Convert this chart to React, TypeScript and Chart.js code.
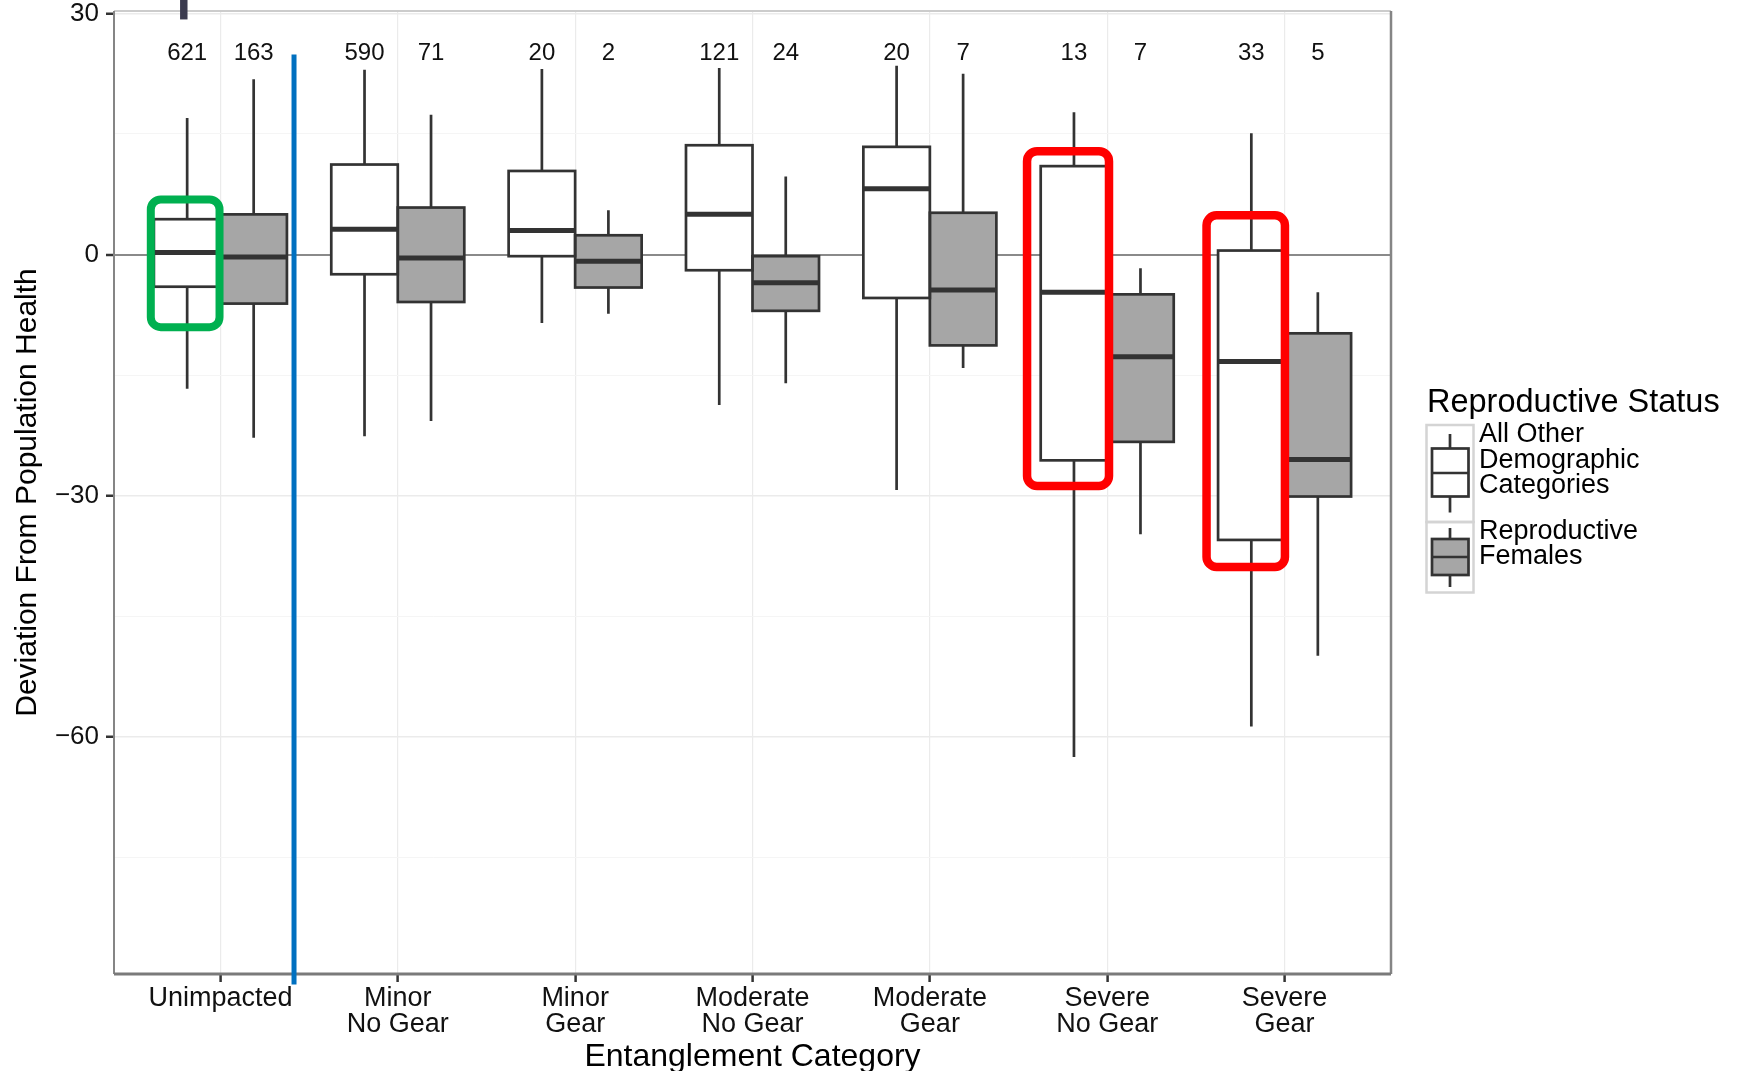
import React, { useEffect, useRef } from 'react';
import { Chart, registerables } from 'chart.js';

Chart.register(...registerables);

// ---------- data ----------
const categoryLabels: string[][] = [
  ['Unimpacted'],
  ['Minor', 'No Gear'],
  ['Minor', 'Gear'],
  ['Moderate', 'No Gear'],
  ['Moderate', 'Gear'],
  ['Severe', 'No Gear'],
  ['Severe', 'Gear'],
];
const categoryPositions = [1, 2, 3, 4, 5, 6, 7];

const seriesNames = ['All Other Demographic Categories', 'Reproductive Females'];

const otherMax = [17.0, 23.0, 23.1, 23.2, 23.5, 17.7, 15.1];
const otherQ3 = [4.4, 11.2, 10.4, 13.6, 13.4, 11.0, 0.5];
const otherMedian = [0.25, 3.15, 3.0, 5.0, 8.2, -4.7, -13.3];
const otherQ1 = [-4.0, -2.45, -0.2, -1.95, -5.4, -25.6, -35.5];
const otherMin = [-16.7, -22.6, -8.5, -18.7, -29.3, -62.5, -58.7];
const otherCounts = [621, 590, 20, 121, 20, 13, 33];

const femaleMax = [21.8, 17.4, 5.5, 9.7, 22.5, -1.7, -4.7];
const femaleQ3 = [5.0, 5.85, 2.4, -0.2, 5.2, -4.95, -9.8];
const femaleMedian = [-0.3, -0.42, -0.83, -3.5, -4.4, -12.7, -25.5];
const femaleQ1 = [-6.1, -5.9, -4.1, -7.0, -11.3, -23.3, -30.1];
const femaleMin = [-22.8, -20.7, -7.35, -16.0, -14.1, -34.8, -49.9];
const femaleCounts = [163, 71, 2, 24, 7, 7, 5];

const yTickValues = [-75, -60, -45, -30, -15, 0, 15, 30];
const yMin = -89.5;
const yMax = 30.3;
const xMin = 0.4;
const xMax = 7.6;
const countLabelValue = 25;

// highlight annotations (in data units)
const greenBox = { x0: 0.6075, x1: 0.995, y0: 6.86, y1: -9.03 };
const redBoxes = [
  { x0: 5.548, x1: 6.01, y0: 12.86, y1: -28.78 },
  { x0: 6.56, x1: 7.002, y0: 4.89, y1: -38.86 },
];
const blueLine = { x: 1.415, yTop: 24.9, yBottom: -90.8 };
const topMark = { x0: 0.7725, x1: 0.8145, yBottom: 29.25 };

// ---------- styling ----------
const FONT = "'Liberation Sans', Arial, Helvetica, sans-serif";
const BOX_LINE = '#333333';
const FILLS = ['#ffffff', '#a6a6a6'];
const LINE_W = 2.7;

const seriesStats = [
  { max: otherMax, q3: otherQ3, med: otherMedian, q1: otherQ1, min: otherMin, n: otherCounts },
  { max: femaleMax, q3: femaleQ3, med: femaleMedian, q1: femaleQ1, min: femaleMin, n: femaleCounts },
];

function fmtY(v: number): string {
  if (v % 30 !== 0) return '';
  return v < 0 ? '\u2212' + Math.abs(v) : String(v);
}

const boxPlugin = {
  id: 'boxExtras',
  beforeDatasetsDraw(chart: any) {
    const ctx = chart.ctx;
    const y = chart.scales.y;
    ctx.save();
    ctx.strokeStyle = BOX_LINE;
    ctx.lineWidth = LINE_W;
    chart.data.datasets.forEach((_ds: any, di: number) => {
      const meta = chart.getDatasetMeta(di);
      const st = seriesStats[di];
      meta.data.forEach((bar: any, i: number) => {
        const { x } = bar.getProps(['x'], true);
        ctx.beginPath();
        ctx.moveTo(x, y.getPixelForValue(st.max[i]));
        ctx.lineTo(x, y.getPixelForValue(st.q3[i]));
        ctx.moveTo(x, y.getPixelForValue(st.q1[i]));
        ctx.lineTo(x, y.getPixelForValue(st.min[i]));
        ctx.stroke();
      });
    });
    ctx.restore();
  },
  afterDatasetsDraw(chart: any) {
    const ctx = chart.ctx;
    const xs = chart.scales.x;
    const y = chart.scales.y;
    const area = chart.chartArea;

    // box outlines, medians, counts
    ctx.save();
    chart.data.datasets.forEach((_ds: any, di: number) => {
      const meta = chart.getDatasetMeta(di);
      const st = seriesStats[di];
      meta.data.forEach((bar: any, i: number) => {
        const { x, width } = bar.getProps(['x', 'width'], true);
        const top = y.getPixelForValue(st.q3[i]);
        const bot = y.getPixelForValue(st.q1[i]);
        ctx.strokeStyle = BOX_LINE;
        ctx.lineWidth = LINE_W;
        ctx.strokeRect(x - width / 2, top, width, bot - top);
        const my = y.getPixelForValue(st.med[i]);
        ctx.lineWidth = 5;
        ctx.beginPath();
        ctx.moveTo(x - width / 2, my);
        ctx.lineTo(x + width / 2, my);
        ctx.stroke();
        ctx.fillStyle = '#111111';
        ctx.font = `24px ${FONT}`;
        ctx.textAlign = 'center';
        ctx.textBaseline = 'middle';
        ctx.fillText(String(st.n[i]), x, y.getPixelForValue(countLabelValue));
      });
    });
    ctx.restore();

    // panel border
    ctx.save();
    ctx.strokeStyle = '#cccccc';
    ctx.lineWidth = 2;
    ctx.beginPath();
    ctx.moveTo(area.left, area.top);
    ctx.lineTo(area.right, area.top);
    ctx.stroke();
    ctx.strokeStyle = '#858585';
    ctx.lineWidth = 2.5;
    ctx.beginPath();
    ctx.moveTo(area.right, area.top);
    ctx.lineTo(area.right, area.bottom);
    ctx.stroke();
    ctx.lineWidth = 2;
    ctx.beginPath();
    ctx.moveTo(area.left, area.top);
    ctx.lineTo(area.left, area.bottom);
    ctx.stroke();
    ctx.strokeStyle = '#7a7a7a';
    ctx.lineWidth = 3;
    ctx.beginPath();
    ctx.moveTo(area.left, area.bottom);
    ctx.lineTo(area.right, area.bottom);
    ctx.stroke();
    ctx.restore();

    // annotations
    ctx.save();
    const rr = (b: { x0: number; x1: number; y0: number; y1: number }, color: string, lw: number) => {
      const l = xs.getPixelForValue(b.x0);
      const r = xs.getPixelForValue(b.x1);
      const t = y.getPixelForValue(b.y0);
      const bt = y.getPixelForValue(b.y1);
      ctx.strokeStyle = color;
      ctx.lineWidth = lw;
      ctx.beginPath();
      (ctx as any).roundRect(l, t, r - l, bt - t, 10);
      ctx.stroke();
    };
    rr(greenBox, '#00b050', 8);
    redBoxes.forEach((b) => rr(b, '#ff0000', 8.5));

    ctx.strokeStyle = '#0070c0';
    ctx.lineWidth = 5;
    ctx.beginPath();
    const bx = xs.getPixelForValue(blueLine.x);
    ctx.moveTo(bx, y.getPixelForValue(blueLine.yTop));
    ctx.lineTo(bx, y.getPixelForValue(blueLine.yBottom));
    ctx.stroke();

    ctx.fillStyle = '#3b3b4f';
    const mx0 = xs.getPixelForValue(topMark.x0);
    const mx1 = xs.getPixelForValue(topMark.x1);
    ctx.fillRect(mx0, 0, mx1 - mx0, y.getPixelForValue(topMark.yBottom));
    ctx.restore();

    // legend
    ctx.save();
    const L = area.right + 36;
    ctx.fillStyle = '#000000';
    ctx.textAlign = 'left';
    ctx.textBaseline = 'middle';
    ctx.font = `32.5px ${FONT}`;
    ctx.fillText('Reproductive Status', L, 403);

    const keys = [
      { top: 425, bottom: 522, wTop: 434, bTop: 448.5, med: 473, bBot: 496.5, wBot: 512.5, lines: ['All Other', 'Demographic', 'Categories'], ly: [435, 460.5, 486] },
      { top: 522, bottom: 592.5, wTop: 528, bTop: 539, med: 557, bBot: 575, wBot: 587, lines: ['Reproductive', 'Females'], ly: [531.5, 557] },
    ];
    keys.forEach((k, i) => {
      ctx.strokeStyle = '#d4d4d4';
      ctx.lineWidth = 2.5;
      ctx.strokeRect(L - 0.5, k.top, 47, k.bottom - k.top);
      const cx = L + 23;
      ctx.strokeStyle = BOX_LINE;
      ctx.lineWidth = LINE_W;
      ctx.beginPath();
      ctx.moveTo(cx, k.wTop);
      ctx.lineTo(cx, k.bTop);
      ctx.moveTo(cx, k.bBot);
      ctx.lineTo(cx, k.wBot);
      ctx.stroke();
      ctx.fillStyle = FILLS[i];
      ctx.fillRect(L + 5, k.bTop, 36.5, k.bBot - k.bTop);
      ctx.strokeRect(L + 5, k.bTop, 36.5, k.bBot - k.bTop);
      ctx.beginPath();
      ctx.moveTo(L + 5, k.med);
      ctx.lineTo(L + 41.5, k.med);
      ctx.stroke();
      ctx.fillStyle = '#000000';
      ctx.font = `27px ${FONT}`;
      k.lines.forEach((t, j) => ctx.fillText(t, L + 52, k.ly[j]));
    });
    ctx.restore();
  },
};

export default function App() {
  const ref = useRef<HTMLCanvasElement>(null);
  useEffect(() => {
    document.body.style.margin = '0';
    document.body.style.overflow = 'hidden';
    const canvas = ref.current;
    if (!canvas) return;
    const datasets = seriesStats.map((st, di) => ({
      label: seriesNames[di],
      data: categoryPositions.map((x, i) => ({ x, y: [st.q1[i], st.q3[i]] })),
      backgroundColor: FILLS[di],
      borderColor: BOX_LINE,
      borderWidth: 0,
      borderSkipped: false as any,
      categoryPercentage: 0.75,
      barPercentage: 1,
    }));
    const chart = new Chart(canvas, {
      type: 'bar',
      data: { datasets: datasets as any },
      options: {
        animation: false,
        responsive: false,
        devicePixelRatio: 1,
        layout: { padding: { left: 0, right: 350, top: 11, bottom: 0 } },
        plugins: { legend: { display: false }, tooltip: { enabled: false } },
        scales: {
          x: {
            type: 'linear',
            min: xMin,
            max: xMax,
            offset: false,
            afterBuildTicks: (s: any) => {
              s.ticks = categoryPositions.map((v) => ({ value: v }));
            },
            afterFit: (s: any) => {
              s.height = 97;
              s.paddingLeft = 0;
              s.paddingRight = 0;
            },
            border: { display: false },
            grid: {
              offset: false,
              color: '#ebebeb',
              lineWidth: 1.2,
              drawTicks: true,
              tickLength: 8,
              tickColor: '#333333',
              tickWidth: 2.5,
            },
            ticks: {
              autoSkip: false,
              maxRotation: 0,
              minRotation: 0,
              padding: 3,
              color: '#111111',
              font: { family: FONT, size: 27, lineHeight: 0.98 },
              callback: (v: any) => categoryLabels[Math.round(Number(v)) - 1] ?? '',
            },
            title: {
              display: true,
              text: 'Entanglement Category',
              color: '#000000',
              font: { family: FONT, size: 32, lineHeight: 0.8 },
              padding: { top: 0, bottom: 1 },
            },
          },
          y: {
            type: 'linear',
            min: yMin,
            max: yMax,
            afterBuildTicks: (s: any) => {
              s.ticks = yTickValues.map((v) => ({ value: v }));
            },
            afterFit: (s: any) => {
              s.width = 114;
              s.paddingTop = 0;
              s.paddingBottom = 0;
            },
            border: { display: false },
            grid: {
              color: (c: any) => {
                const v = c.tick?.value;
                if (v === 0) return '#8a8a8a';
                return v % 30 === 0 ? '#ebebeb' : '#f5f5f5';
              },
              lineWidth: (c: any) => {
                const v = c.tick?.value;
                if (v === 0) return 2;
                return v % 30 === 0 ? 1.5 : 1;
              },
              drawTicks: true,
              tickLength: 8,
              tickColor: (c: any) => (c.tick?.value % 30 === 0 ? '#333333' : 'rgba(0,0,0,0)'),
              tickWidth: 2.5,
            },
            ticks: {
              padding: 7,
              color: '#111111',
              font: { family: FONT, size: 26 },
              callback: (v: any) => fmtY(Number(v)),
            },
            title: {
              display: true,
              text: 'Deviation From Population Health',
              color: '#000000',
              font: { family: FONT, size: 30, lineHeight: 1 },
              padding: { top: 13, bottom: 0 },
            },
          },
        },
      },
      plugins: [boxPlugin],
    } as any);
    return () => chart.destroy();
  }, []);
  return (
    <canvas
      ref={ref}
      width={1741}
      height={1071}
      style={{ display: 'block', width: 1741, height: 1071 }}
    />
  );
}
